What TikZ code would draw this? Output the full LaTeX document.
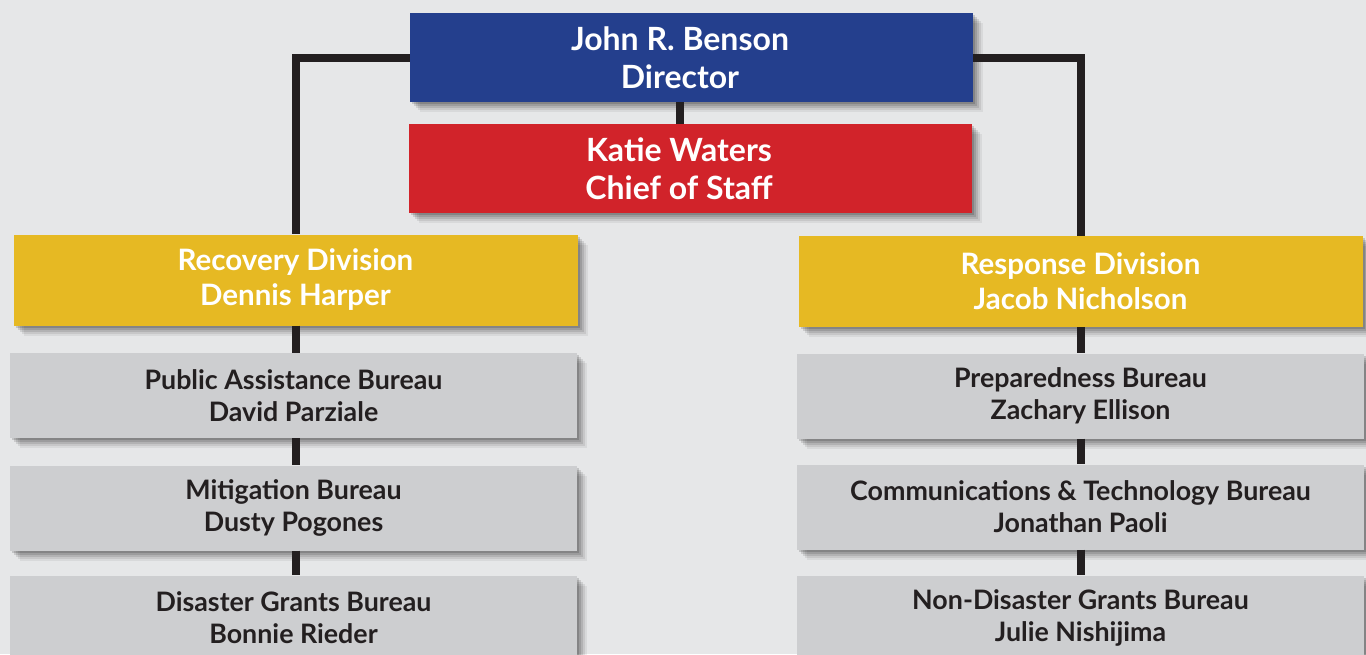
\documentclass[tikz,border=0pt]{standalone}
\usepackage{fontspec}
\setmainfont{Lato}
\usetikzlibrary{shadows}
\definecolor{bggray}{HTML}{E6E7E8}
\definecolor{dirblue}{HTML}{243F8D}
\definecolor{cosred}{HTML}{D1232A}
\definecolor{divgold}{HTML}{E6B923}
\definecolor{bureaugray}{HTML}{CDCED0}
\definecolor{linedark}{HTML}{231F20}
\begin{document}
\begin{tikzpicture}[x=1pt, y=-1pt,
  softshadow/.style={
    drop shadow={shadow xshift=10pt, shadow yshift=-10pt, opacity=0.06, fill=black},
    drop shadow={shadow xshift=8pt, shadow yshift=-8pt, opacity=0.08, fill=black},
    drop shadow={shadow xshift=6pt, shadow yshift=-6pt, opacity=0.10, fill=black},
    drop shadow={shadow xshift=4pt, shadow yshift=-4pt, opacity=0.12, fill=black},
    drop shadow={shadow xshift=2pt, shadow yshift=-2pt, opacity=0.15, fill=black}},
  box/.style={rectangle, inner sep=0pt, align=center, font=\bfseries, softshadow},
  topbox/.style={box, minimum width=563pt, minimum height=89pt},
  toptext/.style={align=center, text=white, font=\bfseries\fontsize{32}{38}\selectfont},
  divbox/.style={box, fill=divgold, text=white, minimum width=564pt, minimum height=91pt, font=\bfseries\fontsize{29.5}{35}\selectfont},
  bureau/.style={box, fill=bureaugray, text=linedark, minimum width=567pt, minimum height=85pt, font=\bfseries\fontsize{26.8}{32}\selectfont},
  link/.style={draw=linedark, line width=8pt}]
\fill[bggray] (0,0) rectangle (1366,654);
\useasboundingbox (0,0) rectangle (1366,654);
\node[topbox, fill=dirblue] (dir) at (691.5,57.5){};
\node[toptext] (dirtxt) at (680,58){John R. Benson\\Director};
\node[topbox, fill=cosred] (cos) at (690.5,168.5){};
\node[toptext] (costxt) at (679,168.5){Katie Waters\\Chief of Staff};
\node[divbox] (rec) at (295.5,280){Recovery Division\\Dennis Harper};
\node[divbox] (resp) at (1080.5,281.5){Response Division\\Jacob Nicholson};
\node[bureau] (pa) at (293.5,395.5){Public Assistance Bureau\\David Parziale};
\node[bureau] (mit) at (293.5,508){Mitigation Bureau\\Dusty Pogones};
\node[bureau] (dg) at (293.5,618){Disaster Grants Bureau\\Bonnie Rieder};
\node[bureau] (prep) at (1080.5,396){Preparedness Bureau\\Zachary Ellison};
\node[bureau] (comm) at (1080.5,507){Communications \& Technology Bureau\\Jonathan Paoli};
\node[bureau] (nondg) at (1080.5,618){Non-Disaster Grants Bureau\\Julie Nishijima};
\draw[link] (dir.west) -| (rec.north);
\draw[link] (dir.east) -| (resp.north);
\draw[link] (dirtxt |- dir.south) -- (dirtxt |- cos.north);
\draw[link] (rec.south) -- (rec.south |- pa.north);
\draw[link] (rec.south |- pa.south) -- (rec.south |- mit.north);
\draw[link] (rec.south |- mit.south) -- (rec.south |- dg.north);
\draw[link] (resp.south) -- (resp.south |- prep.north);
\draw[link] (resp.south |- prep.south) -- (resp.south |- comm.north);
\draw[link] (resp.south |- comm.south) -- (resp.south |- nondg.north);
\end{tikzpicture}
\end{document}
